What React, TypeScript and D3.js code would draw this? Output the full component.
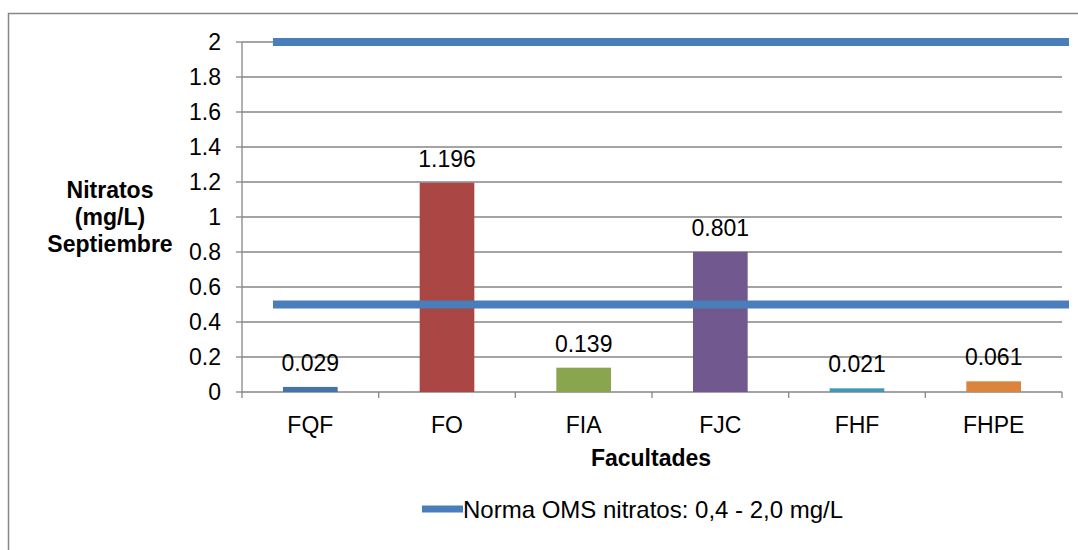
import React from "react";
import * as d3 from "d3";

const categories = ["FQF", "FO", "FIA", "FJC", "FHF", "FHPE"];
const values = [0.029, 1.196, 0.139, 0.801, 0.021, 0.061];
const barColors = ["#4572a7", "#aa4643", "#89a54e", "#71588f", "#4198af", "#db843d"];
const yTicks = [0, 0.2, 0.4, 0.6, 0.8, 1, 1.2, 1.4, 1.6, 1.8, 2];
// WHO limit lines: lower and upper bound, each a two-point series
const normaPoints = [0, 1];
const normaLevels = [0.5, 2];
const legendLabel = "Norma OMS nitratos: 0,4 - 2,0 mg/L";
const yTitle = ["Nitratos", "(mg/L)", "Septiembre"];
const xTitle = "Facultades";

const W = 1078;
const H = 550;
const plot = { left: 242, right: 1062, top: 42, bottom: 392 };
const font = "'Liberation Sans', Arial, sans-serif";
const gridColor = "#868686";
const lineColor = "#4a7ebb";
const fs = 23;

export default function App() {
  const x = d3
    .scaleBand<string>()
    .domain(categories)
    .range([plot.left, plot.right])
    .paddingInner(0.6)
    .paddingOuter(0.3);
  const step = (plot.right - plot.left) / categories.length;
  const y = d3.scaleLinear().domain([0, 2]).range([plot.bottom, plot.top]);
  const xLine = d3.scaleLinear().domain([0, 1]).range([273, 1069]);
  const line = d3.line<number>().x((d) => xLine(d));

  return (
    <svg
      width={W}
      height={H}
      style={{ position: "absolute", left: 0, top: 0, background: "#fff" }}
      fontFamily={font}
    >
      <rect x={8.5} y={13.5} width={W + 20} height={H + 20} fill="#fff" stroke={gridColor} strokeWidth={1.5} />

      {/* gridlines */}
      {yTicks.slice(1).map((t) => (
        <line key={t} x1={plot.left} x2={plot.right} y1={y(t)} y2={y(t)} stroke={gridColor} strokeWidth={1.3} />
      ))}

      {/* y axis */}
      <line x1={plot.left} x2={plot.left} y1={plot.top} y2={plot.bottom} stroke={gridColor} strokeWidth={1.3} />
      {yTicks.map((t) => (
        <g key={t}>
          <line x1={plot.left - 6} x2={plot.left} y1={y(t)} y2={y(t)} stroke={gridColor} strokeWidth={1.3} />
          <text x={221} y={y(t)} dy="0.36em" textAnchor="end" fontSize={fs} fill="#000">
            {String(t)}
          </text>
        </g>
      ))}

      {/* x axis */}
      <line x1={plot.left} x2={plot.right} y1={plot.bottom} y2={plot.bottom} stroke={gridColor} strokeWidth={1.3} />
      {d3.range(categories.length + 1).map((i) => (
        <line
          key={i}
          x1={plot.left + i * step}
          x2={plot.left + i * step}
          y1={plot.bottom}
          y2={plot.bottom + 6}
          stroke={gridColor}
          strokeWidth={1.3}
        />
      ))}
      {categories.map((c) => (
        <text key={c} x={(x(c) ?? 0) + x.bandwidth() / 2} y={433} textAnchor="middle" fontSize={fs} fill="#000">
          {c}
        </text>
      ))}

      {/* bars and value labels */}
      {categories.map((c, i) => (
        <g key={c}>
          <rect
            x={x(c)}
            y={y(values[i])}
            width={x.bandwidth()}
            height={plot.bottom - y(values[i])}
            fill={barColors[i]}
          />
          <text
            x={(x(c) ?? 0) + x.bandwidth() / 2}
            y={y(values[i]) - 16}
            textAnchor="middle"
            fontSize={fs}
            fill="#000"
          >
            {values[i].toFixed(3)}
          </text>
        </g>
      ))}

      {/* limit lines */}
      {normaLevels.map((lv) => (
        <path
          key={lv}
          d={line.y(() => y(lv))(normaPoints) ?? ""}
          stroke={lineColor}
          strokeWidth={8}
          fill="none"
        />
      ))}

      {/* axis titles */}
      <text textAnchor="middle" fontSize={fs} fontWeight="bold" fill="#000">
        {yTitle.map((s, i) => (
          <tspan key={s} x={110} y={198 + i * 27}>
            {s}
          </tspan>
        ))}
      </text>
      <text x={651} y={466} textAnchor="middle" fontSize={fs} fontWeight="bold" fill="#000">
        {xTitle}
      </text>

      {/* legend */}
      <line x1={422} x2={463} y1={509} y2={509} stroke={lineColor} strokeWidth={7} />
      <text x={463} y={509} dy="0.36em" fontSize={24} fill="#000">
        {legendLabel}
      </text>
    </svg>
  );
}
